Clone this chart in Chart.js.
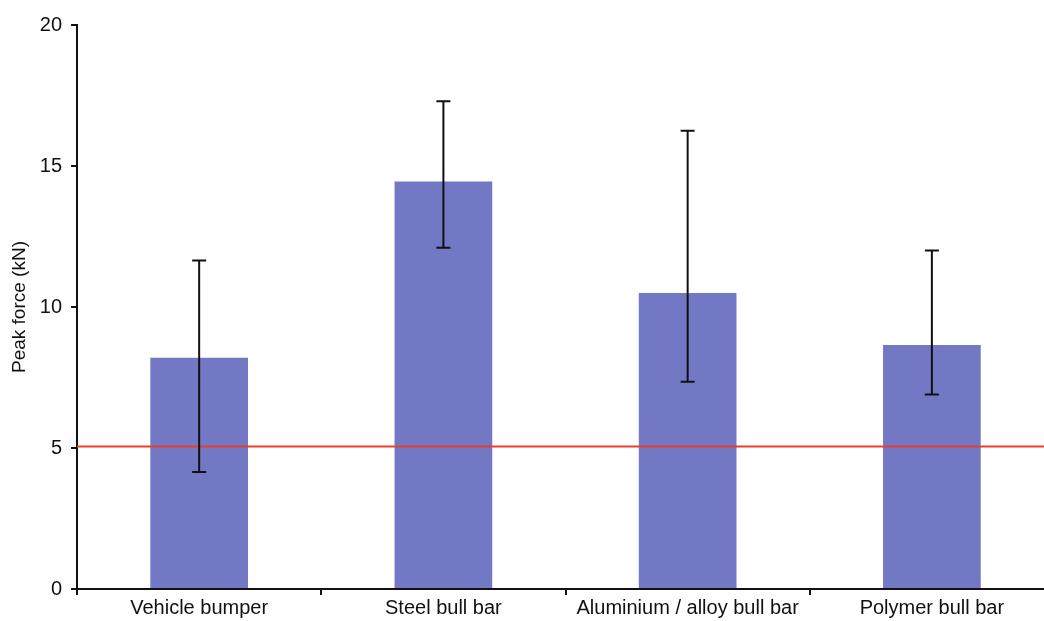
<!DOCTYPE html>
<html>
<head>
<meta charset="utf-8">
<script src="https://cdn.jsdelivr.net/npm/chart.js@4/dist/chart.umd.min.js"></script>
<style>
  html, body { margin: 0; padding: 0; background: #fff; overflow: hidden; }
  #wrap { width: 1054px; height: 621px; }
</style>
</head>
<body>
<div id="wrap"><canvas id="chart" width="1054" height="621"></canvas></div>
<script>
const categories = ['Vehicle bumper', 'Steel bull bar', 'Aluminium / alloy bull bar', 'Polymer bull bar'];
const peakForce = [8.2, 14.45, 10.5, 8.65];
const errLow = [4.15, 12.1, 7.35, 6.9];
const errHigh = [11.65, 17.3, 16.25, 12.0];
const threshold = 5.05;
const yTicks = [0, 5, 10, 15, 20];

// error bars + threshold line, positioned with the chart's own scales
const overlay = {
  id: 'overlay',
  afterDatasetsDraw(chart) {
    const { ctx, chartArea, scales: { x, y } } = chart;
    ctx.save();
    ctx.strokeStyle = '#e8402c';
    ctx.lineWidth = 2;
    const ty = y.getPixelForValue(threshold);
    ctx.beginPath();
    ctx.moveTo(chartArea.left, ty);
    ctx.lineTo(chartArea.right, ty);
    ctx.stroke();

    ctx.strokeStyle = '#111';
    ctx.lineWidth = 2;
    categories.forEach((c, i) => {
      const cx = x.getPixelForValue(i);
      const lo = y.getPixelForValue(errLow[i]);
      const hi = y.getPixelForValue(errHigh[i]);
      ctx.beginPath();
      ctx.moveTo(cx, lo); ctx.lineTo(cx, hi);
      ctx.moveTo(cx - 7, lo); ctx.lineTo(cx + 7, lo);
      ctx.moveTo(cx - 7, hi); ctx.lineTo(cx + 7, hi);
      ctx.stroke();
    });
    ctx.restore();
  }
};

const font = 'Liberation Sans, Arial';

new Chart(document.getElementById('chart'), {
  type: 'bar',
  data: {
    labels: categories,
    datasets: [{
      data: peakForce,
      backgroundColor: '#7378c5',
      barPercentage: 0.8,
      categoryPercentage: 0.5,
    }],
  },
  options: {
    responsive: false,
    animation: false,
    layout: { padding: { top: 25, left: 2, right: 0, bottom: 0 } },
    plugins: { legend: { display: false }, tooltip: { enabled: false } },
    scales: {
      x: {
        grid: { drawOnChartArea: false, drawTicks: true, tickLength: 6, offset: true, color: '#111', lineWidth: 2 },
        border: { color: '#111', width: 2 },
        ticks: { color: '#111', font: { family: font, size: 20 }, padding: 1, maxRotation: 0 },
      },
      y: {
        min: 0, max: 20,
        afterBuildTicks(axis) { axis.ticks = yTicks.map(v => ({ value: v })); },
        grid: { drawOnChartArea: false, drawTicks: true, tickLength: 6, color: '#111', lineWidth: 2 },
        border: { color: '#111', width: 2 },
        ticks: { color: '#111', font: { family: font, size: 20 }, padding: 9 },
        title: { display: true, text: 'Peak force (kN)', color: '#111', font: { family: font, size: 19 }, padding: { top: 6, bottom: 0 } },
      },
    },
  },
  plugins: [overlay],
});
</script>
</body>
</html>
